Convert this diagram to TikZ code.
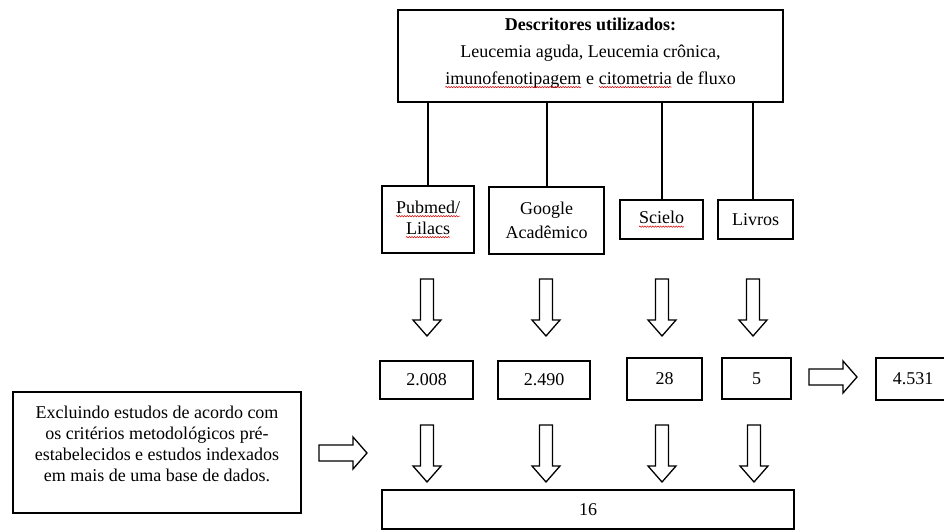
\documentclass[tikz,border=0pt]{standalone}
\usepackage{fontspec}
\setmainfont{Liberation Serif}
\usetikzlibrary{decorations.pathmorphing}
\newcommand\redwave[1]{\tikz[baseline=(wavew.base),x=1pt,y=1pt,line width=0.5pt]{\node[draw=none,minimum width=0pt,minimum height=0pt,inner sep=0pt,outer sep=0pt,align=left] (wavew) {#1};
  \draw[red!85!black,line width=0.5pt,decorate,decoration={snake,amplitude=0.7pt,segment length=2.6pt}] ([yshift=-2.8pt]wavew.base west) -- ([yshift=-2.8pt]wavew.base east);}}
\begin{document}
\begin{tikzpicture}[x=1pt,y=-1pt,
  box/.style={draw,line width=1.5pt,inner sep=0pt,align=center,font=\fontsize{18}{21}\selectfont},
  txt/.style={inner sep=0pt,align=center,font=\fontsize{18}{21}\selectfont},
  arrowline/.style={draw,line width=1.3pt,fill=white,line join=miter},
  conn/.style={line width=1.6pt},
  downarr/.pic={\path[arrowline] (-6.5,0) -- (6.5,0) -- (6.5,41) -- (14,41) -- (0,57) -- (-14,41) -- (-6.5,41) -- cycle;},
  rightarr/.pic={\path[arrowline] (0,-8) -- (34,-8) -- (34,-16) -- (48,0) -- (34,16) -- (34,8) -- (0,8) -- cycle;}
]
\useasboundingbox (0,0) rectangle (944,531);

% top box
\node[box,minimum width=385pt,minimum height=92pt] (top) at (590.5,56) {};
\node[txt,font=\fontsize{18}{27}\selectfont] (toptxt) at (590.5,53)
  {\textbf{Descritores utilizados:}\\Leucemia aguda, Leucemia crônica,\\\redwave{imunofenotipagem} e \redwave{citometria} de fluxo};

% source boxes
\node[box,minimum width=92pt,minimum height=67pt] (pub) at (428,219.5) {\redwave{Pubmed/}\\\redwave{Lilacs}};
\node[box,minimum width=115pt,minimum height=67pt,font=\fontsize{18}{24}\selectfont] (goo) at (546.5,220.5) {Google\\Acadêmico};
\node[box,minimum width=83pt,minimum height=39pt] (sci) at (661.5,219.5) {\redwave{Scielo}};
\node[box,minimum width=75pt,minimum height=39pt] (liv) at (755.5,219.5) {Livros};

\coordinate (pubtop) at (428,186);
\coordinate (gootop) at (547,187);
\coordinate (scitop) at (662,200);
\coordinate (livtop) at (753,200);
\draw[conn] (top.south -| pubtop) -- (pubtop);
\draw[conn] (top.south -| gootop) -- (gootop);
\draw[conn] (top.south -| scitop) -- (scitop);
\draw[conn] (top.south -| livtop) -- (livtop);

% down arrows (upper row)
\pic at (427,279) {downarr};
\pic at (546,279) {downarr};
\pic at (662,279) {downarr};
\pic at (753,279) {downarr};

% number boxes
\node[box,minimum width=93pt,minimum height=38pt] (n1) at (426.5,380) {2.008};
\node[box,minimum width=92pt,minimum height=38pt] (n2) at (544,380) {2.490};
\node[box,minimum width=75pt,minimum height=42pt] (n3) at (664.5,379) {28};
\node[box,minimum width=69pt,minimum height=41pt] (n4) at (756.5,378.5) {5};
\node[box,minimum width=74pt,minimum height=42pt] (n5) at (913,379) {4.531};
\pic at (809,377) {rightarr};

% lower down arrows
\pic at (427,425) {downarr};
\pic at (546,425) {downarr};
\pic at (662,425) {downarr};
\pic at (754,425) {downarr};

% final box
\node[box,minimum width=412pt,minimum height=39pt] (fin) at (588,509.5) {16};

% exclusion box
\node[box,minimum width=288pt,minimum height=121pt] (exc) at (157,452.5) {};
\node[txt] (exctxt) at (157,444)
  {Excluindo estudos de acordo com\\os critérios metodológicos pré-\\estabelecidos e estudos indexados\\em mais de uma base de dados.};
\pic at (319,453) {rightarr};
\end{tikzpicture}
\end{document}
